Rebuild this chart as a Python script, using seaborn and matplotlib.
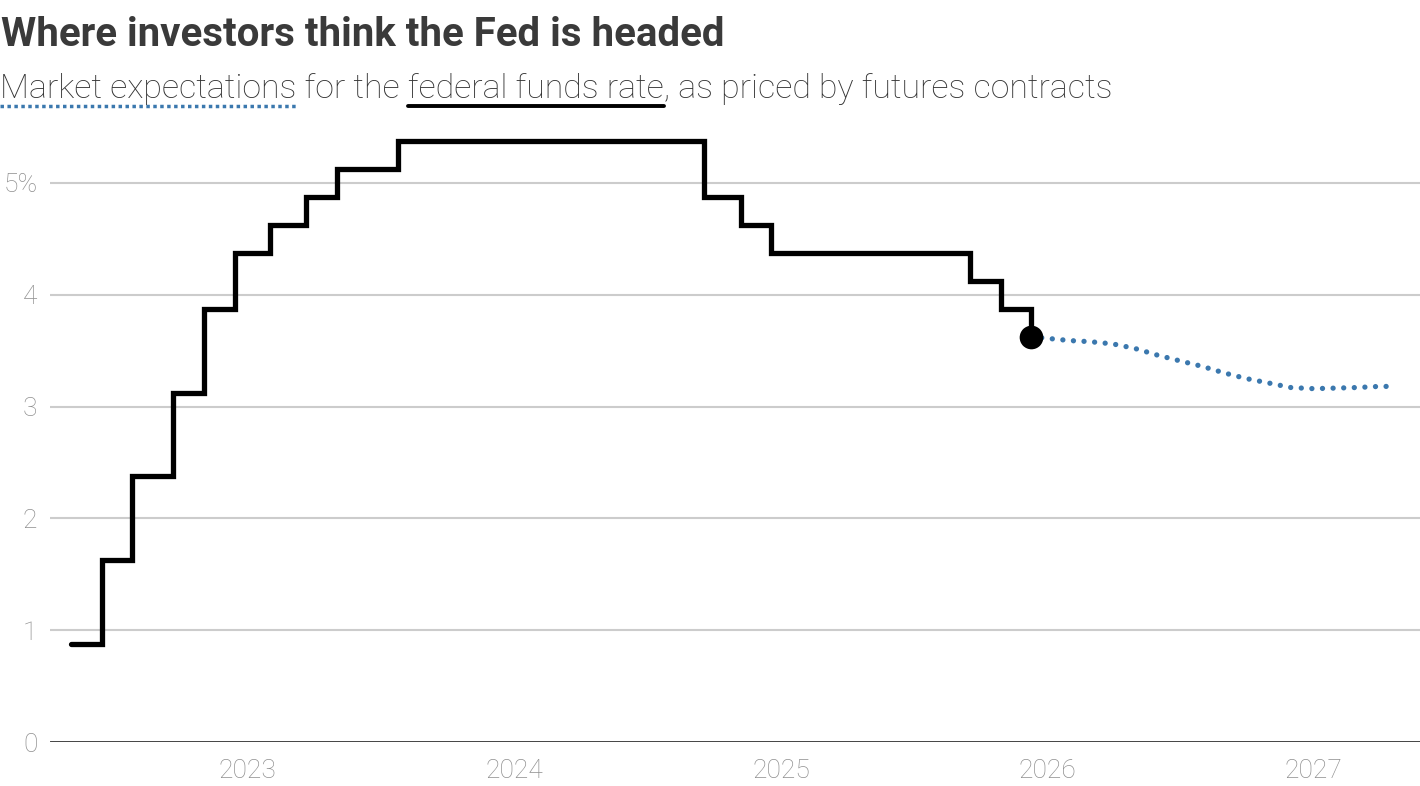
import matplotlib
matplotlib.use("Agg")
import matplotlib.pyplot as plt
import matplotlib.dates as mdates
import pandas as pd
import seaborn as sns

# --- datos ---
fed_dates = ["2022-05-04", "2022-06-15", "2022-07-27", "2022-09-21", "2022-11-02",
             "2022-12-14", "2023-02-01", "2023-03-22", "2023-05-03", "2023-07-26",
             "2024-09-18", "2024-11-07", "2024-12-18", "2025-09-17", "2025-10-29",
             "2025-12-10"]
fed_rate = [0.875, 1.625, 2.375, 3.125, 3.875, 4.375, 4.625, 4.875, 5.125, 5.375,
            4.875, 4.625, 4.375, 4.125, 3.875, 3.625]

fc_dates = ["2025-12-10", "2026-01-01", "2026-02-01", "2026-03-01", "2026-04-01",
            "2026-05-01", "2026-06-01", "2026-07-01", "2026-08-01", "2026-09-01",
            "2026-10-01", "2026-11-01", "2026-12-01", "2027-01-01", "2027-02-01",
            "2027-03-01", "2027-04-01", "2027-04-20"]
fc_rate = [3.625, 3.61, 3.59, 3.58, 3.56, 3.52, 3.46, 3.41, 3.36, 3.30, 3.25,
           3.21, 3.17, 3.16, 3.165, 3.17, 3.18, 3.18]

y_ticks = [0, 1, 2, 3, 4, 5]
y_labels = ["0", "1", "2", "3", "4", "5%"]
x_years = [2023, 2024, 2025, 2026, 2027]

title = "Where investors think the Fed is headed"
subtitle = "Market expectations for the federal funds rate, as priced by futures contracts"
sub_a = "Market expectations"
sub_b = "federal funds rate"

fed = pd.DataFrame({"fecha": pd.to_datetime(fed_dates), "tasa": fed_rate})
fc = pd.DataFrame({"fecha": pd.to_datetime(fc_dates), "tasa": fc_rate})

BLUE = "#3b78ae"
W, H = 1420, 786

sns.set_theme(style="white")
plt.rcParams["font.family"] = ["Roboto", "DejaVu Sans"]

fig = plt.figure(figsize=(W / 100, H / 100), dpi=100)
ax = fig.add_axes([50 / W, 44 / H, 1370 / W, 615 / H])

for v in y_ticks[1:]:
    ax.axhline(v, color="#cccccc", lw=1.5, zorder=0)
ax.axhline(0, color="#333333", lw=2, zorder=1)

sns.lineplot(data=fed, x="fecha", y="tasa", ax=ax, color="black", lw=3.8,
             drawstyle="steps-post", solid_joinstyle="miter",
             solid_capstyle="round", zorder=3)
sns.lineplot(data=fc, x="fecha", y="tasa", ax=ax, color=BLUE, lw=3.8,
             linestyle=(0, (0.01, 2.0)), dash_capstyle="round", zorder=2)
ax.scatter(fed["fecha"].iloc[-1], fed["tasa"].iloc[-1], s=290, color="black",
           zorder=4, linewidths=0)

ax.set_xlim(pd.Timestamp("2022-04-05"), pd.Timestamp("2027-05-27"))
ax.set_ylim(0, 5.5)
ax.set_xticks([pd.Timestamp(f"{y}-01-01") for y in x_years])
ax.xaxis.set_major_formatter(mdates.DateFormatter("%Y"))
ax.set_yticks(y_ticks, y_labels)
ax.tick_params(axis="both", length=0, labelsize=19, labelcolor="#8f8f8f")
ax.tick_params(axis="y", pad=9)
ax.tick_params(axis="x", pad=12)
for lab in ax.get_xticklabels() + ax.get_yticklabels():
    lab.set_fontweight("light")
ax.set_xlabel("")
ax.set_ylabel("")
sns.despine(ax=ax, left=True, bottom=True)

fig.text(1 / W, 1 - 46 / H, title, fontsize=29, fontweight="bold",
         color="#3a3a3a", va="baseline", ha="left")
sub_kw = dict(fontsize=24.4, fontweight="light", color="#333333", va="baseline", ha="left")
fig.text(0, 1 - 98 / H, subtitle, **sub_kw)

# subrayados bajo el subtítulo
r = fig.canvas.get_renderer()
def ancho(s):
    t = fig.text(0, 0, s, **sub_kw)
    w = t.get_window_extent(r).width
    t.remove()
    return w

x_a = ancho(sub_a)
x_b1 = ancho("Market expectations for the federal funds rate")
x_b0 = x_b1 - ancho(sub_b)
y_u = 1 - 106 / H
fig.add_artist(plt.Line2D([0, x_a / W], [y_u, y_u], color=BLUE, lw=2.5,
                          linestyle=(0, (1, 1)), dash_capstyle="butt",
                          transform=fig.transFigure))
fig.add_artist(plt.Line2D([x_b0 / W, x_b1 / W], [y_u, y_u], color="black", lw=2.8,
                          transform=fig.transFigure))

fig.savefig("out.png", dpi=100)
